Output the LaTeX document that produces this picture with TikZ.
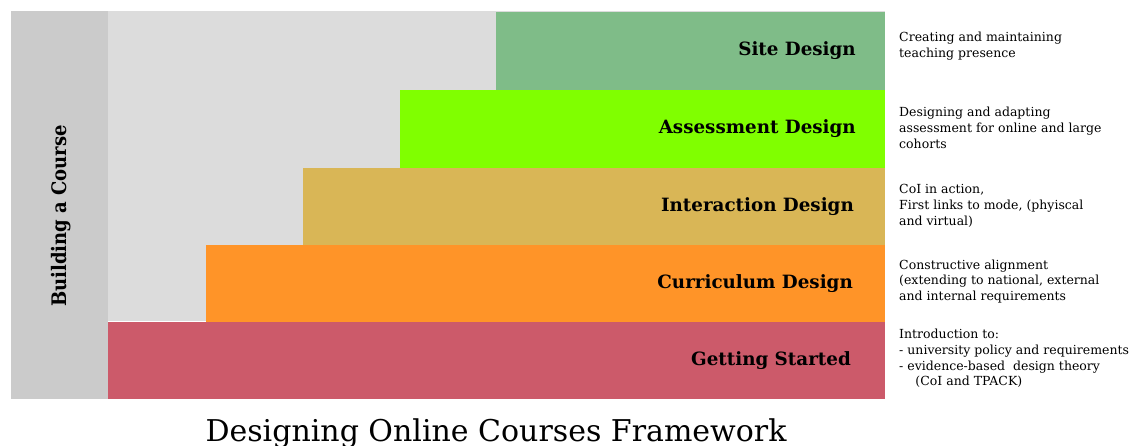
\documentclass[tikz,border=0pt]{standalone}
\usepackage{fontspec}
\setmainfont{DejaVu Serif}
\newfontfamily\condfont{DejaVu Serif Condensed}
\definecolor{sidegrey}{HTML}{CBCBCB}
\definecolor{backgrey}{HTML}{DCDCDC}
\definecolor{sitecol}{HTML}{7FBC88}
\definecolor{assesscol}{HTML}{80FF00}
\definecolor{interactcol}{HTML}{D9B656}
\definecolor{currcol}{HTML}{FF9428}
\definecolor{startcol}{HTML}{CC5A6A}
\begin{document}
\begin{tikzpicture}[x=1pt,y=-1pt,
  band/.style={draw=none, inner sep=0, outer sep=0, anchor=north west},
  stagelabel/.style={anchor=base east, inner sep=0, font=\bfseries\fontsize{18.3}{22}\selectfont},
  note/.style={anchor=north west, inner sep=0, align=left, font=\fontsize{12.5}{15.7}\selectfont},
]
\useasboundingbox[fill=white] (0,0) rectangle (1142,445);

% background columns
\node[band, fill=sidegrey, minimum width=97, minimum height=388] (side) at (11,11) {};
\node[band, fill=backgrey, minimum width=777, minimum height=310] (back) at (108,11) {};

% stacked stages
\node[band, fill=sitecol, minimum width=389, minimum height=78] (site) at (496,12) {};
\node[band, fill=assesscol, minimum width=485, minimum height=78] (assess) at (400,90) {};
\node[band, fill=interactcol, minimum width=582, minimum height=77] (interact) at (303,168) {};
\node[band, fill=currcol, minimum width=679, minimum height=77] (curr) at (206,245) {};
\node[band, fill=startcol, minimum width=777, minimum height=77] (start) at (108,322) {};

% stage names
\node[stagelabel] (siteL) at (856,55) {Site Design};
\node[stagelabel] (assessL) at (856,133) {Assessment Design};
\node[stagelabel] (interactL) at (854,211) {Interaction Design};
\node[stagelabel] (currL) at (853,288) {Curriculum Design};
\node[stagelabel] (startL) at (851,365) {Getting Started};

% side caption
\node[rotate=90, anchor=base, inner sep=0, font=\condfont\bfseries\fontsize{20}{24}\selectfont] (sideL) at (66,216) {Building a Course};

% descriptions
\node[note] (siteN) at (899,32) {Creating and maintaining\\teaching presence};
\node[note] (assessN) at (899,107) {Designing and adapting\\assessment for online and large\\cohorts};
\node[note] (interactN) at (899,184.5) {CoI in action,\\First links to mode, (phyiscal\\and virtual)};
\node[note] (currN) at (899,259.5) {Constructive alignment\\(extending to national, external\\and internal requirements};
\node[note] (startN) at (899,329) {Introduction to:\\- university policy and requirements\\- evidence-based\ \ design theory\\\hspace*{1.3em}(CoI and TPACK)};

% title
\node[anchor=base, inner sep=0, font=\fontsize{30}{36}\selectfont] (title) at (496,441) {Designing Online Courses Framework};
\end{tikzpicture}
\end{document}
